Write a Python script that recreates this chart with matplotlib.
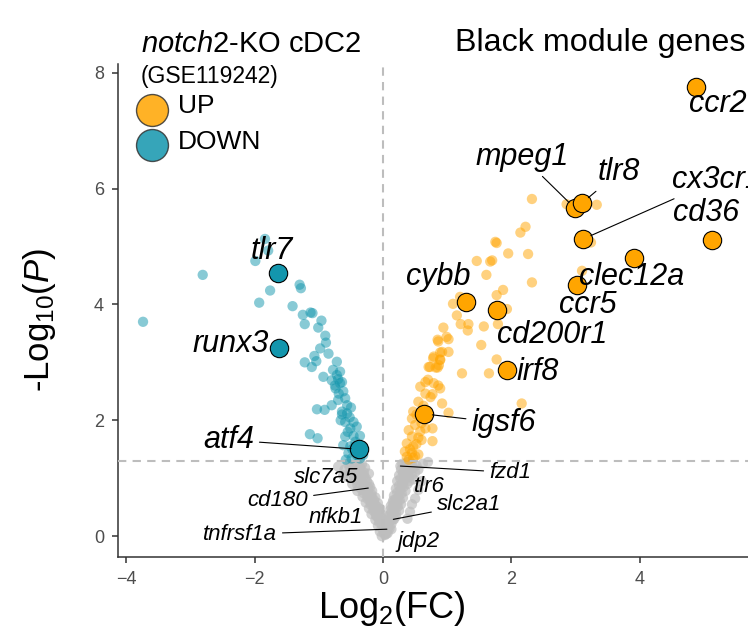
import matplotlib
matplotlib.use('Agg')
import matplotlib.pyplot as plt
from matplotlib.lines import Line2D

plt.rcParams['font.family'] = ['Liberation Sans', 'DejaVu Sans']
plt.rcParams['mathtext.fontset'] = 'custom'
plt.rcParams['mathtext.rm'] = 'Liberation Sans'
plt.rcParams['mathtext.it'] = 'Liberation Sans:italic'

# ---------------- data ----------------
# non-significant (grey) genes
grey_x = [-0.55, -0.48, -0.40, -0.33, -0.60, -0.50, -0.42, -0.35, -0.28, -0.55,
          -0.45, -0.37, -0.30, -0.22, -0.48, -0.40, -0.32, -0.25, -0.40, -0.33,
          -0.26, -0.20, -0.32, -0.25, -0.18, -0.27, -0.20, -0.14, -0.22, -0.15,
          -0.10, -0.18, -0.12, -0.06, -0.12, -0.06, -0.01, -0.08, -0.02, 0.03,
          -0.05, 0.00, 0.05, -0.02, 0.03, 0.08, 0.10,
          0.30, 0.38, 0.45, 0.52, 0.28, 0.35, 0.42, 0.50, 0.25, 0.32,
          0.40, 0.48, 0.22, 0.30, 0.38, 0.20, 0.27, 0.35, 0.17, 0.24,
          0.31, 0.15, 0.22, 0.28, 0.12, 0.18, 0.25, 0.10, 0.15, 0.20, 0.13,
          0.55, 0.60, 0.55, 0.50, 0.45, 0.62, 0.70, 0.42, 0.38, -0.70, -0.62,
          -0.52, -0.44, -0.36, -0.46, -0.38, -0.30, -0.42, -0.34, -0.27, -0.36,
          -0.29, -0.22, -0.30, -0.23, -0.17, -0.24, -0.17, -0.12, -0.19, -0.13,
          -0.08, -0.15, -0.09, -0.04, -0.10, -0.04, 0.01, -0.06, 0.00, 0.04,
          0.34, 0.42, 0.47, 0.31, 0.38, 0.45, 0.27, 0.34, 0.41, 0.25,
          0.32, 0.22, 0.29, 0.19, 0.26, 0.16, 0.23, 0.13, 0.20, 0.11,
          0.17, 0.08, 0.13, 0.06, 0.10, 0.05, 0.02, 0.07, 0.16, 0.12]
grey_y = [1.25, 1.22, 1.25, 1.24, 1.15, 1.12, 1.10, 1.15, 1.18, 1.02,
          1.00, 1.02, 1.05, 1.08, 0.90, 0.88, 0.92, 0.95, 0.78, 0.80,
          0.82, 0.85, 0.68, 0.70, 0.72, 0.58, 0.60, 0.62, 0.48, 0.50,
          0.52, 0.38, 0.40, 0.42, 0.28, 0.30, 0.30, 0.18, 0.20, 0.20,
          0.08, 0.10, 0.08, 0.00, 0.02, 0.15, 0.25,
          1.25, 1.28, 1.25, 1.22, 1.15, 1.18, 1.14, 1.10, 1.05, 1.05,
          1.02, 0.98, 0.95, 0.92, 0.90, 0.82, 0.80, 0.78, 0.70, 0.68,
          0.66, 0.58, 0.56, 0.55, 0.46, 0.45, 0.44, 0.36, 0.35, 0.34, 0.12,
          1.15, 0.95, 0.80, 0.65, 0.55, 1.25, 1.28, 0.42, 0.30, 1.20, 1.05,
          1.18, 1.19, 1.20, 1.06, 1.07, 1.10, 0.96, 0.97, 1.00, 0.84,
          0.86, 0.90, 0.74, 0.76, 0.78, 0.64, 0.66, 0.67, 0.54, 0.55,
          0.57, 0.44, 0.46, 0.47, 0.34, 0.35, 0.36, 0.24, 0.25, 0.26,
          1.21, 1.20, 1.18, 1.10, 1.08, 1.05, 0.99, 0.97, 0.95, 0.87,
          0.85, 0.75, 0.74, 0.63, 0.62, 0.52, 0.51, 0.41, 0.40, 0.30,
          0.29, 0.22, 0.21, 0.14, 0.13, 0.04, 0.06, 0.05, 0.62, 0.52]

# down-regulated genes (faint)
down_x = [-1.84, -1.79, -1.99, -2.81, -3.74, -1.76, -1.93, -1.30, -1.28, -1.41,
          -1.25, -1.13, -1.10, -1.22, -0.96, -1.01, -0.90, -0.89, -0.98, -1.07,
          -1.22, -1.04, -1.11, -0.72, -0.78, -0.67, -0.93, -0.80, -0.70, -0.64,
          -0.74, -0.67, -0.59, -0.56, -1.03, -0.91, -0.80, -0.64, -0.56, -0.59,
          -0.46, -0.51, -0.41, -1.14, -1.02, -0.59, -0.46, -0.36, -0.62, -0.51,
          -0.54, -0.41, -0.31, -0.49, -0.36, -0.43, -0.64, -0.69, -0.75, -0.52,
          -0.48, -0.58, -0.70, -0.85, -0.62, -0.55, -0.44, -0.66, -0.72, -0.50]
down_y = [5.13, 4.93, 4.75, 4.51, 3.70, 4.24, 4.03, 4.34, 4.28, 3.97,
          3.82, 3.86, 3.85, 3.66, 3.72, 3.60, 3.46, 3.34, 3.24, 3.11,
          3.00, 3.02, 2.92, 3.01, 2.87, 2.84, 2.75, 2.69, 2.71, 2.66,
          2.55, 2.64, 2.38, 2.26, 2.19, 2.18, 2.26, 2.15, 2.12, 1.97,
          1.97, 1.86, 1.89, 1.76, 1.69, 1.72, 1.73, 1.73, 1.57, 1.55,
          1.43, 1.40, 1.40, 1.34, 1.34, 1.63, 2.10, 2.46, 2.60, 2.05,
          1.50, 1.32, 2.35, 3.15, 2.50, 1.80, 1.55, 2.00, 2.78, 2.22]

# up-regulated genes (faint)
up_x = [2.32, 2.86, 3.33, 2.22, 2.14, 1.75, 1.77, 1.95, 2.26, 1.46,
        1.67, 1.70, 1.61, 2.32, 3.10, 3.24, 1.20, 1.09, 1.36, 1.77,
        1.87, 1.93, 1.15, 1.21, 1.33, 1.32, 1.57, 1.79, 0.94, 0.85,
        0.99, 1.02, 0.89, 0.78, 0.89, 0.73, 0.85, 1.53, 1.77, 1.23,
        1.65, 2.16,
        0.86, 1.02, 0.92, 0.79, 0.89, 0.71, 0.82, 0.87, 0.66, 0.79,
        0.86, 0.58, 0.66, 0.77, 0.89, 0.55, 0.92, 0.47, 1.02, 0.45,
        0.61, 0.50, 0.66, 0.77, 0.40, 0.45, 0.60, 0.77, 0.37, 0.47,
        0.34, 0.45, 0.37, 0.47, 0.55, 0.52, 0.58, 0.69, 0.74, 0.63,
        0.70, 0.42, 0.40, 0.55, 0.60, 0.52, 0.50]
up_y = [5.82, 5.73, 5.72, 5.34, 5.24, 5.08, 5.06, 4.88, 4.87, 4.75,
        4.74, 4.76, 4.51, 4.38, 4.58, 5.07, 4.13, 4.01, 4.07, 4.16,
        4.25, 3.92, 3.81, 3.66, 3.66, 3.55, 3.62, 3.66, 3.60, 3.39,
        3.44, 3.18, 3.17, 3.07, 3.05, 2.92, 2.91, 3.30, 3.05, 2.81,
        2.81, 2.29,
        3.36, 3.40, 3.18, 3.10, 3.04, 2.92, 2.91, 2.95, 2.66, 2.64,
        2.60, 2.58, 2.46, 2.45, 2.55, 2.32, 2.29, 2.15, 2.13, 2.03,
        2.03, 1.92, 1.86, 1.86, 1.83, 1.72, 1.66, 1.64, 1.60, 1.55,
        1.46, 1.44, 1.37, 1.35, 1.41, 1.59, 1.81, 2.16, 2.40, 2.25,
        2.70, 1.50, 1.32, 1.70, 1.95, 2.10, 1.38]

# highlighted module genes
hl_up_genes = ['ccr2', 'mpeg1', 'tlr8', 'cx3cr1', 'cd36', 'clec12a', 'ccr5',
               'cybb', 'cd200r1', 'irf8', 'igsf6']
hl_up_x = [4.88, 2.99, 3.10, 3.12, 5.13, 3.91, 3.02, 1.29, 1.78, 1.93, 0.64]
hl_up_y = [7.75, 5.66, 5.75, 5.13, 5.11, 4.80, 4.33, 4.04, 3.90, 2.87, 2.11]

hl_down_genes = ['tlr7', 'runx3', 'atf4']
hl_down_x = [-1.63, -1.62, -0.37]
hl_down_y = [4.54, 3.25, 1.50]

# labelled non-significant genes
ns_genes = ['fzd1', 'slc2a1', 'tnfrsf1a', 'cd180', 'slc7a5', 'nfkb1', 'tlr6', 'jdp2']
ns_x = [0.27, 0.16, 0.06, -0.23, -0.35, -0.10, 0.30, 0.02]
ns_y = [1.21, 0.29, 0.12, 0.83, 1.05, 0.35, 0.90, 0.05]

# ---------------- style / layout ----------------
ORANGE = '#FFA500'
TEAL = '#1396AD'
GREY = '#BEBEBE'

# label positions (text centre) and whether a connector is drawn
lab_pos = {
    'ccr2': (5.22, 7.46, False), 'mpeg1': (2.17, 6.55, True), 'tlr8': (3.68, 6.29, True),
    'cx3cr1': (4.50, 6.15, True), 'cd36': (5.03, 5.58, False), 'clec12a': (3.88, 4.48, False),
    'ccr5': (3.19, 3.99, False), 'cybb': (0.86, 4.47, False), 'cd200r1': (2.63, 3.48, False),
    'irf8': (2.41, 2.83, False), 'igsf6': (1.88, 1.95, True),
    'tlr7': (-1.73, 4.92, False), 'runx3': (-2.38, 3.32, False), 'atf4': (-2.41, 1.66, True),
    'fzd1': (1.98, 1.10, True), 'slc2a1': (1.34, 0.54, True), 'tnfrsf1a': (-2.23, 0.03, True),
    'cd180': (-1.64, 0.62, True), 'slc7a5': (-0.89, 1.02, False), 'nfkb1': (-0.73, 0.33, False),
    'tlr6': (0.72, 0.86, False), 'jdp2': (0.56, -0.09, False),
}

fig = plt.figure(figsize=(7.48, 6.33), dpi=100)
ax = fig.add_axes([118 / 748, 76 / 633, 636 / 748, 493 / 633])
ax.set_xlim(-4.13, 5.78)
ax.set_ylim(-0.36, 8.15)

ax.scatter(grey_x, grey_y, s=55, color=GREY, alpha=0.7, edgecolor='none', zorder=2)
ax.scatter(ns_x, ns_y, s=55, color=GREY, alpha=0.7, edgecolor='none', zorder=2)
ax.scatter(down_x, down_y, s=55, color=TEAL, alpha=0.5, edgecolor='none', zorder=2)
ax.scatter(up_x, up_y, s=55, color=ORANGE, alpha=0.5, edgecolor='none', zorder=2)

ax.axvline(0, color='#BDBDBD', lw=1.5, dashes=(4, 3), zorder=3)
ax.axhline(1.3, color='#BDBDBD', lw=1.5, dashes=(4, 3), zorder=3)

ax.scatter(hl_up_x, hl_up_y, s=175, color=ORANGE, edgecolor='black', lw=0.8, zorder=4)
ax.scatter(hl_down_x, hl_down_y, s=175, color=TEAL, edgecolor='black', lw=0.8, zorder=4)

def label(genes, xs, ys, size, shrink):
    for g, x, y in zip(genes, xs, ys):
        tx, ty, seg = lab_pos[g]
        ha = 'left' if g == 'cx3cr1' else 'center'
        ap = dict(arrowstyle='-', color='black', lw=0.8, shrinkA=2, shrinkB=shrink) if seg else None
        ax.annotate(g, xy=(x, y), xytext=(tx, ty), textcoords='data',
                    fontsize=size, style='italic', ha=ha, va='center',
                    arrowprops=ap, zorder=5, annotation_clip=False)

label(hl_up_genes, hl_up_x, hl_up_y, 22, 6)
label(hl_down_genes, hl_down_x, hl_down_y, 22, 6)
label(ns_genes, ns_x, ns_y, 16, 0)

for side in ['top', 'right']:
    ax.spines[side].set_visible(False)
for side in ['left', 'bottom']:
    ax.spines[side].set_linewidth(1.1)
    ax.spines[side].set_color('#333333')
ax.set_xticks([-4, -2, 0, 2, 4])
ax.set_yticks([0, 2, 4, 6, 8])
ax.tick_params(labelsize=13, labelcolor='#4D4D4D', length=4, width=1.1, color='#333333')
ax.tick_params(axis='x', pad=6)
ax.tick_params(axis='y', pad=6)
ax.set_xlabel(r'Log$_2$(FC)', fontsize=26)
ax.set_ylabel(r'-Log$_{10}$($\mathit{P}$)', fontsize=25)
ax.xaxis.set_label_coords((392 - 118) / 636, -(608 - 557) / 493, transform=ax.transAxes)
ax.xaxis.label.set_va('center')
ax.yaxis.set_label_coords(-(118 - 40) / 636, (557 - 320) / 493, transform=ax.transAxes)
ax.yaxis.label.set_va('center')

# title
fig.text(455 / 748, 1 - 51 / 633, 'Black module genes', fontsize=23.2, ha='left', va='baseline')

# legend
fig.text(141 / 748, 1 - 52 / 633, r'$\mathit{notch2}$-KO cDC2', fontsize=21, ha='left', va='baseline')
fig.text(141 / 748, 1 - 83 / 633, '(GSE119242)', fontsize=16.5, ha='left', va='baseline')
for yy, col, txt, ty in [(110, ORANGE, 'UP', 106), (145, TEAL, 'DOWN', 142)]:
    fig.add_artist(Line2D([152 / 748], [1 - yy / 633], marker='o', markersize=23,
                          markerfacecolor=col, markeredgecolor='#333333', alpha=0.85,
                          markeredgewidth=1.0, linestyle='none', transform=fig.transFigure))
    fig.text(178 / 748, 1 - ty / 633, txt, fontsize=19, ha='left', va='center')

fig.savefig('out.png', dpi=100)
